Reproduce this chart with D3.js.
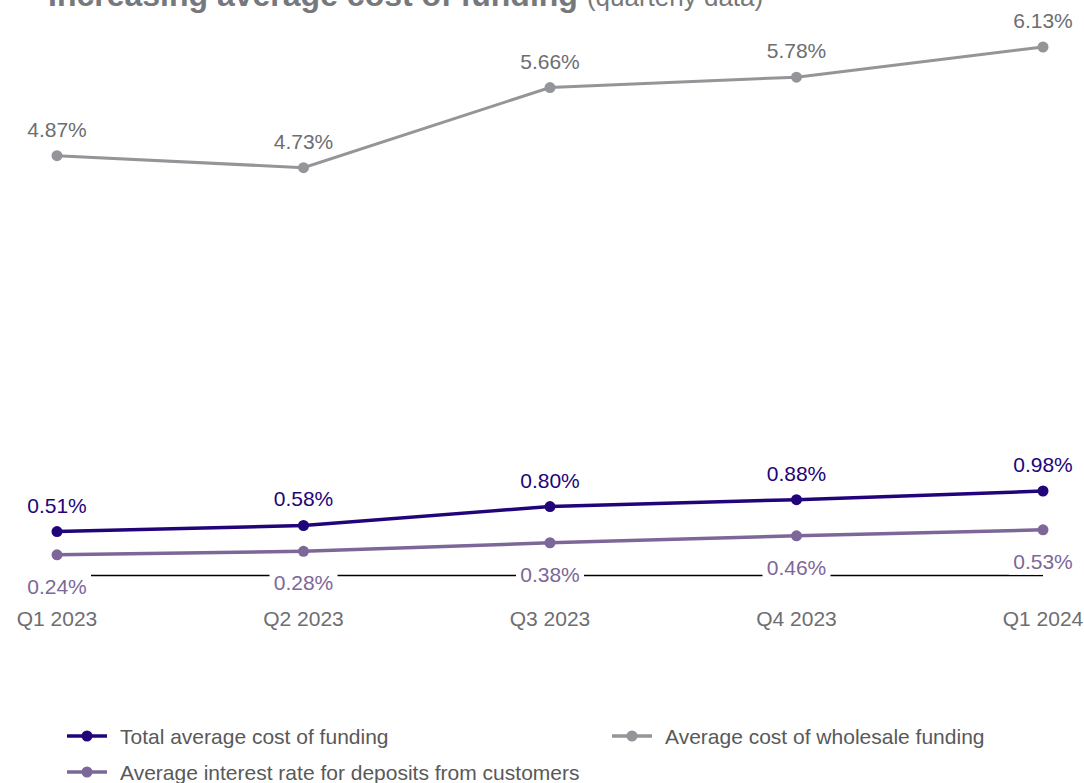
<!DOCTYPE html>
<html><head><meta charset="utf-8">
<script src="https://cdn.jsdelivr.net/npm/d3@7"></script>
<style>body{margin:0;background:#fff}svg{display:block;font-family:"Liberation Sans",Arial,sans-serif}</style>
</head><body>
<svg id="c" width="1084" height="783"></svg>
<script>
const quarters = ["Q1 2023","Q2 2023","Q3 2023","Q4 2023","Q1 2024"];
const totalCost = [0.51,0.58,0.80,0.88,0.98];
const wholesaleCost = [4.87,4.73,5.66,5.78,6.13];
const depositRate = [0.24,0.28,0.38,0.46,0.53];
const seriesNames = ["Total average cost of funding","Average cost of wholesale funding","Average interest rate for deposits from customers"];

const svg = d3.select("#c");
const x = d3.scalePoint().domain(quarters).range([57,1043]);
const y = d3.scaleLinear().domain([0,6.13]).range([575.5,47]);

const series = [
  {name:seriesNames[0], vals:totalCost, color:"#22047a", w:3.5, lblColor:"#22047a", pos:"above"},
  {name:seriesNames[1], vals:wholesaleCost, color:"#939598", w:3, lblColor:"#6d6e71", pos:"above"},
  {name:seriesNames[2], vals:depositRate, color:"#7d6799", w:3.5, lblColor:"#7d6799", pos:"below"}
];

// title
const t = svg.append("text").attr("x",48).attr("y",6).attr("fill","#77787b");
t.append("tspan").attr("font-size",32).attr("font-weight","bold").text("Increasing average cost of funding");
t.append("tspan").attr("font-size",26).attr("dx",9).text("(quarterly data)");

// baseline axis
svg.append("line").attr("x1",x(quarters[0])).attr("x2",x(quarters[4])).attr("y1",y(0)).attr("y2",y(0)).attr("stroke","#000").attr("stroke-width",1.5);

// x labels
svg.append("g").selectAll("text").data(quarters).join("text")
  .attr("x",d=>x(d)).attr("y",626).attr("text-anchor","middle").attr("font-size",21).attr("fill","#6d6e71").text(d=>d);

const line = d3.line().x((d,i)=>x(quarters[i])).y(d=>y(d));
const order = [series[1],series[2],series[0]];
order.forEach(s=>{
  svg.append("path").datum(s.vals).attr("d",line).attr("fill","none").attr("stroke",s.color).attr("stroke-width",s.w);
  svg.append("g").selectAll("circle").data(s.vals).join("circle")
    .attr("cx",(d,i)=>x(quarters[i])).attr("cy",d=>y(d)).attr("r",5.5).attr("fill",s.color);
  const g = svg.append("g").selectAll("g").data(s.vals).join("g");
  const yy = (d)=> s.pos==="above" ? y(d)-19 : y(d)+39;
  if(s.pos==="below"){
    g.append("rect").attr("x",(d,i)=>x(quarters[i])-34).attr("y",d=>yy(d)-20).attr("width",68).attr("height",26).attr("fill","#fff");
  }
  g.append("text").attr("x",(d,i)=>x(quarters[i])).attr("y",d=>yy(d)).attr("text-anchor","middle")
    .attr("font-size",21).attr("fill",s.lblColor).text(d=>d.toFixed(2)+"%");
});

// legend
const leg = [
  {s:series[0], x:67, y:736},
  {s:series[1], x:612, y:736},
  {s:series[2], x:67, y:772}
];
const lg = svg.append("g").selectAll("g").data(leg).join("g").attr("transform",d=>`translate(${d.x},${d.y})`);
lg.append("line").attr("x1",0).attr("x2",40).attr("stroke",d=>d.s.color).attr("stroke-width",3.5);
lg.append("circle").attr("cx",20).attr("r",5.5).attr("fill",d=>d.s.color);
lg.append("text").attr("x",53).attr("y",8).attr("font-size",21).attr("fill","#595959").text(d=>d.s.name);
</script>
</body></html>
